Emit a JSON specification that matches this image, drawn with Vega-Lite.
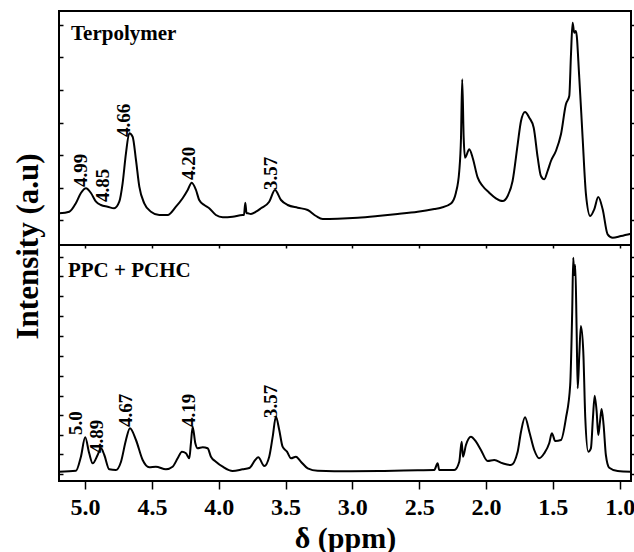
{
  "$schema": "https://vega.github.io/schema/vega-lite/v6.json",
  "background": "white",
  "padding": {"left": 11, "top": 10, "right": 0, "bottom": 0},
  "spacing": 0,
  "bounds": "flush",
  "config": {
    "view": {"stroke": "black", "strokeWidth": 2},
    "font": "Liberation Serif",
    "axis": {"domain": false, "grid": false, "tickColor": "black", "tickWidth": 1.5, "labelColor": "black", "titleColor": "black", "labelFont": "Liberation Serif", "titleFont": "Liberation Serif"}
  },
  "datasets": {
    "terpolymer": [
      {"ppm": 5.193, "intensity": 31.7}, {"ppm": 5.118, "intensity": 33.3}, {"ppm": 5.068, "intensity": 42}, {"ppm": 5.031, "intensity": 52},
      {"ppm": 4.993, "intensity": 56.7}, {"ppm": 4.956, "intensity": 52}, {"ppm": 4.918, "intensity": 43.3}, {"ppm": 4.881, "intensity": 40},
      {"ppm": 4.831, "intensity": 38.3}, {"ppm": 4.782, "intensity": 36.7}, {"ppm": 4.744, "intensity": 43.3}, {"ppm": 4.719, "intensity": 61.7},
      {"ppm": 4.694, "intensity": 91.7}, {"ppm": 4.669, "intensity": 111.7}, {"ppm": 4.644, "intensity": 108.3}, {"ppm": 4.619, "intensity": 85},
      {"ppm": 4.594, "intensity": 58.3}, {"ppm": 4.557, "intensity": 41.7}, {"ppm": 4.507, "intensity": 33.3}, {"ppm": 4.445, "intensity": 30},
      {"ppm": 4.382, "intensity": 30}, {"ppm": 4.320, "intensity": 38.3}, {"ppm": 4.270, "intensity": 46.7}, {"ppm": 4.232, "intensity": 55},
      {"ppm": 4.202, "intensity": 62.3}, {"ppm": 4.170, "intensity": 55}, {"ppm": 4.146, "intensity": 45}, {"ppm": 4.108, "intensity": 40},
      {"ppm": 4.071, "intensity": 36.7}, {"ppm": 4.021, "intensity": 30}, {"ppm": 3.970, "intensity": 27.7}, {"ppm": 3.896, "intensity": 28.3},
      {"ppm": 3.821, "intensity": 30}, {"ppm": 3.811, "intensity": 30}, {"ppm": 3.801, "intensity": 42.3}, {"ppm": 3.792, "intensity": 32},
      {"ppm": 3.781, "intensity": 31.7}, {"ppm": 3.759, "intensity": 31}, {"ppm": 3.721, "intensity": 33.3}, {"ppm": 3.684, "intensity": 36.7},
      {"ppm": 3.622, "intensity": 43.3}, {"ppm": 3.579, "intensity": 55}, {"ppm": 3.534, "intensity": 45}, {"ppm": 3.484, "intensity": 40},
      {"ppm": 3.409, "intensity": 37.3}, {"ppm": 3.334, "intensity": 35}, {"ppm": 3.272, "intensity": 29}, {"ppm": 3.222, "intensity": 26},
      {"ppm": 3.110, "intensity": 26.3}, {"ppm": 2.960, "intensity": 27.3}, {"ppm": 2.811, "intensity": 29}, {"ppm": 2.661, "intensity": 31},
      {"ppm": 2.511, "intensity": 33.3}, {"ppm": 2.387, "intensity": 36}, {"ppm": 2.337, "intensity": 37.3}, {"ppm": 2.262, "intensity": 41.5},
      {"ppm": 2.225, "intensity": 52.3}, {"ppm": 2.200, "intensity": 74}, {"ppm": 2.187, "intensity": 107.3}, {"ppm": 2.178, "intensity": 165.7},
      {"ppm": 2.167, "intensity": 107.3}, {"ppm": 2.157, "intensity": 87.3}, {"ppm": 2.125, "intensity": 95.7}, {"ppm": 2.100, "intensity": 87.3},
      {"ppm": 2.062, "intensity": 67.3}, {"ppm": 2.025, "intensity": 59}, {"ppm": 1.976, "intensity": 52.3}, {"ppm": 1.926, "intensity": 46.7},
      {"ppm": 1.875, "intensity": 44}, {"ppm": 1.838, "intensity": 49}, {"ppm": 1.801, "intensity": 64}, {"ppm": 1.763, "intensity": 100.7},
      {"ppm": 1.738, "intensity": 124}, {"ppm": 1.708, "intensity": 133}, {"ppm": 1.676, "intensity": 127.3}, {"ppm": 1.643, "intensity": 117.3},
      {"ppm": 1.613, "intensity": 87.3}, {"ppm": 1.589, "intensity": 69}, {"ppm": 1.564, "intensity": 65.7}, {"ppm": 1.539, "intensity": 74},
      {"ppm": 1.514, "intensity": 84}, {"ppm": 1.477, "intensity": 94}, {"ppm": 1.439, "intensity": 110.7}, {"ppm": 1.402, "intensity": 140.7},
      {"ppm": 1.377, "intensity": 149}, {"ppm": 1.364, "intensity": 190.7}, {"ppm": 1.352, "intensity": 222.3}, {"ppm": 1.340, "intensity": 212.3},
      {"ppm": 1.327, "intensity": 214}, {"ppm": 1.302, "intensity": 167.3}, {"ppm": 1.277, "intensity": 107.3}, {"ppm": 1.252, "intensity": 50.7},
      {"ppm": 1.220, "intensity": 29}, {"ppm": 1.190, "intensity": 35.7}, {"ppm": 1.160, "intensity": 48}, {"ppm": 1.127, "intensity": 35.7},
      {"ppm": 1.090, "intensity": 10.7}, {"ppm": 1.052, "intensity": 7.3}, {"ppm": 0.990, "intensity": 9}, {"ppm": 0.915, "intensity": 11.3}
    ],
    "blend": [
      {"ppm": 5.193, "intensity": 9.3}, {"ppm": 5.068, "intensity": 10.3}, {"ppm": 5.031, "intensity": 24.3}, {"ppm": 4.999, "intensity": 43.7},
      {"ppm": 4.969, "intensity": 27.7}, {"ppm": 4.943, "intensity": 17.7}, {"ppm": 4.906, "intensity": 26}, {"ppm": 4.881, "intensity": 32.7},
      {"ppm": 4.856, "intensity": 26}, {"ppm": 4.819, "intensity": 11.7}, {"ppm": 4.769, "intensity": 11}, {"ppm": 4.731, "intensity": 19.3},
      {"ppm": 4.694, "intensity": 41}, {"ppm": 4.664, "intensity": 52.7}, {"ppm": 4.619, "intensity": 41}, {"ppm": 4.569, "intensity": 21},
      {"ppm": 4.520, "intensity": 13.7}, {"ppm": 4.470, "intensity": 14.3}, {"ppm": 4.395, "intensity": 11.7}, {"ppm": 4.345, "intensity": 14.3},
      {"ppm": 4.307, "intensity": 22.7}, {"ppm": 4.275, "intensity": 29.3}, {"ppm": 4.245, "intensity": 27.7}, {"ppm": 4.220, "intensity": 22.7},
      {"ppm": 4.208, "intensity": 37.7}, {"ppm": 4.195, "intensity": 54.3}, {"ppm": 4.175, "intensity": 37.7}, {"ppm": 4.158, "intensity": 32.7},
      {"ppm": 4.120, "intensity": 33.7}, {"ppm": 4.083, "intensity": 32.7}, {"ppm": 4.058, "intensity": 24.3}, {"ppm": 4.021, "intensity": 19.3},
      {"ppm": 3.970, "intensity": 14.3}, {"ppm": 3.896, "intensity": 10}, {"ppm": 3.821, "intensity": 11.7}, {"ppm": 3.771, "intensity": 13},
      {"ppm": 3.727, "intensity": 21}, {"ppm": 3.704, "intensity": 23.7}, {"ppm": 3.659, "intensity": 15}, {"ppm": 3.622, "intensity": 24.3},
      {"ppm": 3.596, "intensity": 44.3}, {"ppm": 3.572, "intensity": 64.3}, {"ppm": 3.547, "intensity": 51}, {"ppm": 3.522, "intensity": 34.3},
      {"ppm": 3.489, "intensity": 29.3}, {"ppm": 3.459, "intensity": 22.7}, {"ppm": 3.422, "intensity": 24.3}, {"ppm": 3.385, "intensity": 19.3},
      {"ppm": 3.334, "intensity": 12.7}, {"ppm": 3.260, "intensity": 10.3}, {"ppm": 3.011, "intensity": 9.7}, {"ppm": 2.761, "intensity": 10},
      {"ppm": 2.511, "intensity": 10.7}, {"ppm": 2.387, "intensity": 11}, {"ppm": 2.362, "intensity": 17.7}, {"ppm": 2.350, "intensity": 11},
      {"ppm": 2.262, "intensity": 11}, {"ppm": 2.237, "intensity": 11}, {"ppm": 2.200, "intensity": 19.3}, {"ppm": 2.182, "intensity": 39.3},
      {"ppm": 2.172, "intensity": 24.3}, {"ppm": 2.150, "intensity": 36}, {"ppm": 2.113, "intensity": 44.3}, {"ppm": 2.075, "intensity": 39.3},
      {"ppm": 2.038, "intensity": 31}, {"ppm": 1.988, "intensity": 20}, {"ppm": 1.938, "intensity": 21}, {"ppm": 1.875, "intensity": 17.7},
      {"ppm": 1.813, "intensity": 16}, {"ppm": 1.763, "intensity": 29.3}, {"ppm": 1.738, "intensity": 49.3}, {"ppm": 1.708, "intensity": 63.7},
      {"ppm": 1.676, "intensity": 49.3}, {"ppm": 1.639, "intensity": 31}, {"ppm": 1.602, "intensity": 22.7}, {"ppm": 1.564, "intensity": 27.7},
      {"ppm": 1.527, "intensity": 37.7}, {"ppm": 1.507, "intensity": 47.7}, {"ppm": 1.482, "intensity": 40}, {"ppm": 1.439, "intensity": 41},
      {"ppm": 1.402, "intensity": 62.7}, {"ppm": 1.370, "intensity": 96}, {"ppm": 1.355, "intensity": 169.3}, {"ppm": 1.347, "intensity": 223.3},
      {"ppm": 1.340, "intensity": 206}, {"ppm": 1.332, "intensity": 216}, {"ppm": 1.322, "intensity": 152.7}, {"ppm": 1.314, "intensity": 92.7},
      {"ppm": 1.302, "intensity": 126}, {"ppm": 1.290, "intensity": 155}, {"ppm": 1.272, "intensity": 129.3}, {"ppm": 1.257, "intensity": 62.7},
      {"ppm": 1.235, "intensity": 29.3}, {"ppm": 1.215, "intensity": 32.7}, {"ppm": 1.200, "intensity": 62.7}, {"ppm": 1.187, "intensity": 85.3},
      {"ppm": 1.172, "intensity": 69.3}, {"ppm": 1.160, "intensity": 46}, {"ppm": 1.147, "intensity": 59.3}, {"ppm": 1.135, "intensity": 72},
      {"ppm": 1.120, "intensity": 56}, {"ppm": 1.103, "intensity": 26}, {"ppm": 1.078, "intensity": 13.3}, {"ppm": 1.015, "intensity": 10},
      {"ppm": 0.915, "intensity": 9.3}
    ],
    "topPeaks": [
      {"ppm": 5.034, "intensity": 58, "label": "4.99"},
      {"ppm": 4.866, "intensity": 43, "label": "4.85"},
      {"ppm": 4.705, "intensity": 108, "label": "4.66"},
      {"ppm": 4.226, "intensity": 65, "label": "4.20"},
      {"ppm": 3.609, "intensity": 55, "label": "3.57"}
    ],
    "bottomPeaks": [
      {"ppm": 5.068, "intensity": 46, "label": "5.0"},
      {"ppm": 4.911, "intensity": 28, "label": "4.89"},
      {"ppm": 4.694, "intensity": 54, "label": "4.67"},
      {"ppm": 4.219, "intensity": 54, "label": "4.19"},
      {"ppm": 3.609, "intensity": 63, "label": "3.57"}
    ],
    "topName": [{"ppm": 5.105, "intensity": 205, "label": "Terpolymer"}],
    "bottomName": [{"ppm": 5.128, "intensity": 204.3, "label": "PPC + PCHC"}]
  },
  "vconcat": [
    {
      "width": 572,
      "height": 234,
      "layer": [
        {
          "data": {"name": "terpolymer"},
          "mark": {"type": "line", "color": "black", "strokeWidth": 2, "interpolate": "monotone"},
          "encoding": {
            "x": {"field": "ppm", "type": "quantitative",
              "scale": {"domain": [0.915, 5.195], "reverse": true, "nice": false, "zero": false},
              "axis": {"values": [5, 4.75, 4.5, 4.25, 4, 3.75, 3.5, 3.25, 3, 2.75, 2.5, 2.25, 2, 1.75, 1.5, 1.25, 1], "labels": false, "title": null, "tickSize": 3}},
            "y": {"field": "intensity", "type": "quantitative",
              "scale": {"domain": [0, 234], "nice": false, "zero": false},
              "axis": {"values": [25, 57.5, 90, 122.5, 155, 187.5, 220], "labels": false, "tickSize": -4,
                "title": "Intensity (a.u)", "titleFont": "Liberation Serif", "titleFontSize": 31, "titleFontWeight": "bold", "titleAngle": 270,
                "titleX": -31, "titleY": 235, "titleAlign": "center", "titleBaseline": "middle"}}
          }
        },
        {
          "data": {"name": "topPeaks"},
          "mark": {"type": "text", "angle": 270, "align": "left", "baseline": "middle", "font": "Liberation Serif", "fontWeight": "bold", "fontSize": 19, "color": "black"},
          "encoding": {
            "x": {"field": "ppm", "type": "quantitative"},
            "y": {"field": "intensity", "type": "quantitative",
              "axis": {"orient": "right", "values": [25, 57.5, 90, 122.5, 155, 187.5, 220], "labels": false, "title": null, "tickSize": 4}},
            "text": {"field": "label"}
          }
        },
        {
          "data": {"name": "topName"},
          "mark": {"type": "text", "align": "left", "baseline": "alphabetic", "font": "Liberation Serif", "fontWeight": "bold", "fontSize": 21, "color": "black"},
          "encoding": {
            "x": {"field": "ppm", "type": "quantitative"},
            "y": {"field": "intensity", "type": "quantitative", "axis": null},
            "text": {"field": "label"}
          }
        }
      ],
      "resolve": {"axis": {"y": "independent"}}
    },
    {
      "width": 572,
      "height": 236,
      "layer": [
        {
          "data": {"name": "blend"},
          "mark": {"type": "line", "color": "black", "strokeWidth": 2, "interpolate": "monotone"},
          "encoding": {
            "x": {"field": "ppm", "type": "quantitative",
              "scale": {"domain": [0.915, 5.195], "reverse": true, "nice": false, "zero": false},
              "axis": {"values": [5, 4.75, 4.5, 4.25, 4, 3.75, 3.5, 3.25, 3, 2.75, 2.5, 2.25, 2, 1.75, 1.5, 1.25, 1],
                "labelExpr": "(datum.value * 2) % 1 == 0 ? format(datum.value, '.1f') : ''",
                "tickSize": 8, "labelPadding": 6, "labelFont": "Liberation Serif", "labelFontSize": 24, "labelFontWeight": "bold", "labelFlush": false, "labelOverlap": false,
                "title": "δ (ppm)", "titleFont": "Liberation Serif", "titleFontSize": 30, "titleFontWeight": "bold", "titleBaseline": "alphabetic", "titleY": 66}},
            "y": {"field": "intensity", "type": "quantitative",
              "scale": {"domain": [0, 236], "nice": false, "zero": false},
              "axis": {"values": [7, 27, 46.5, 66, 85.5, 105.5, 125.5, 145, 165, 185, 204.5, 224], "labels": false, "tickSize": -4, "title": null}}
          }
        },
        {
          "data": {"name": "bottomPeaks"},
          "mark": {"type": "text", "angle": 270, "align": "left", "baseline": "middle", "font": "Liberation Serif", "fontWeight": "bold", "fontSize": 19, "color": "black"},
          "encoding": {
            "x": {"field": "ppm", "type": "quantitative"},
            "y": {"field": "intensity", "type": "quantitative",
              "axis": {"orient": "right", "values": [7, 27, 46.5, 66, 85.5, 105.5, 125.5, 145, 165, 185, 204.5, 224], "labels": false, "title": null, "tickSize": 4}},
            "text": {"field": "label"}
          }
        },
        {
          "data": {"name": "bottomName"},
          "mark": {"type": "text", "align": "left", "baseline": "alphabetic", "font": "Liberation Serif", "fontWeight": "bold", "fontSize": 21, "color": "black"},
          "encoding": {
            "x": {"field": "ppm", "type": "quantitative"},
            "y": {"field": "intensity", "type": "quantitative", "axis": null},
            "text": {"field": "label"}
          }
        }
      ],
      "resolve": {"axis": {"y": "independent"}}
    }
  ]
}
